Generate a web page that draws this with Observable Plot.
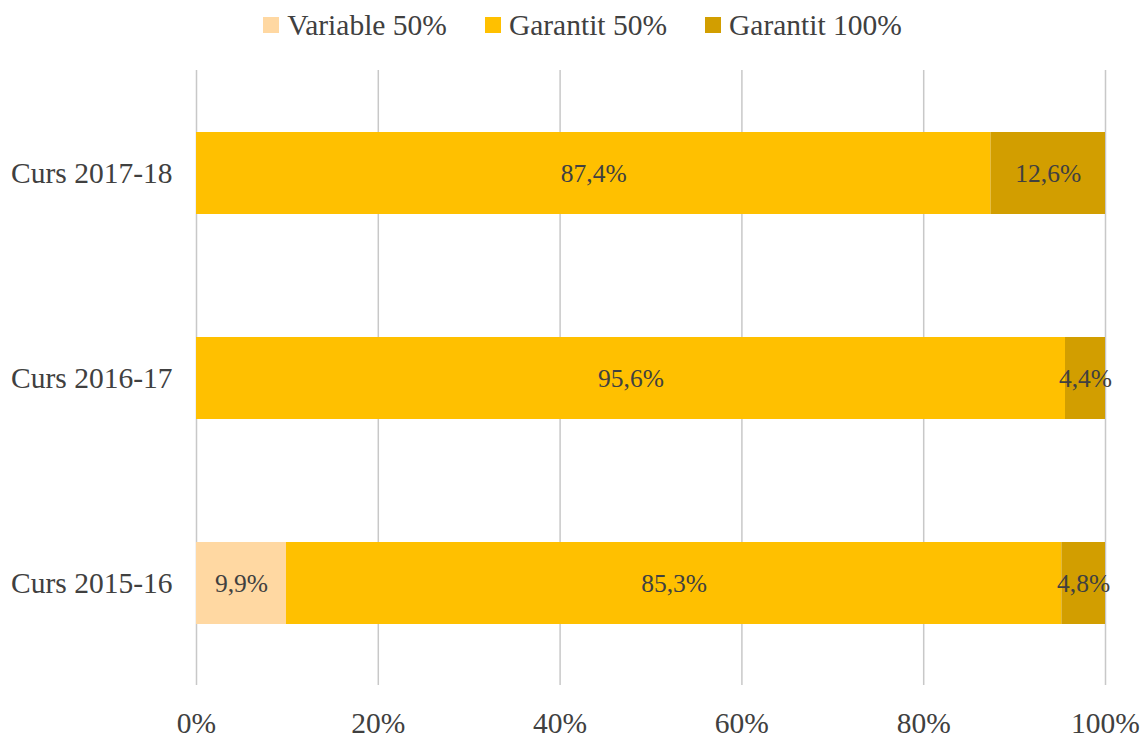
<!DOCTYPE html>
<html>
<head>
<meta charset="utf-8">
<script src="https://cdn.jsdelivr.net/npm/d3@7"></script>
<script src="https://cdn.jsdelivr.net/npm/@observablehq/plot@0.6"></script>
<style>
  body { margin: 0; background: #fff; font-family: "Liberation Serif", serif; }
  #legend { height: 50px; display: flex; align-items: center; justify-content: center; padding-left: 22px; box-sizing: border-box; color: #404040; font-size: 29.5px; }
  .item { display: flex; align-items: center; margin: 0 19px; }
  .sw { width: 16px; height: 16px; margin-right: 8px; }
</style>
</head>
<body>
<div id="legend"></div>
<div id="chart"></div>
<script>
const categories = ["Curs 2017-18", "Curs 2016-17", "Curs 2015-16"];
const series = ["Variable 50%", "Garantit 50%", "Garantit 100%"];
const colors = ["#FFD8A2", "#FFC000", "#D29E00"];
const variable50 = [0, 0, 9.9];
const garantit50 = [87.4, 95.6, 85.3];
const garantit100 = [12.6, 4.4, 4.8];
const xTicks = [0, 20, 40, 60, 80, 100];

const seriesValues = [variable50, garantit50, garantit100];
const data = [];
categories.forEach((c, i) => {
  series.forEach((s, j) => {
    const v = seriesValues[j][i];
    if (v > 0) data.push({cat: c, series: s, value: v});
  });
});

const legend = document.getElementById("legend");
series.forEach((s, j) => {
  const it = document.createElement("div");
  it.className = "item";
  it.innerHTML = `<div class="sw" style="background:${colors[j]}"></div><span>${s}</span>`;
  legend.appendChild(it);
});

const fmt = v => v.toFixed(1).replace(".", ",") + "%";

const chart = Plot.plot({
  width: 1143,
  height: 688,
  marginLeft: 196,
  marginRight: 38,
  marginTop: 20,
  marginBottom: 53,
  style: {fontFamily: "Liberation Serif", color: "#404040", background: "#fff"},
  x: {domain: [0, 100], ticks: xTicks},
  y: {domain: categories, paddingInner: 0.6, paddingOuter: 0.3, label: null},
  color: {domain: series, range: colors},
  marks: [
    Plot.ruleX(xTicks, {x: d => d, stroke: "#c8c8c8", strokeWidth: 1.5}),
    Plot.barX(data, Plot.stackX({y: "cat", x: "value", fill: "series", order: series})),
    Plot.textX(data, Plot.stackX({y: "cat", x: "value", z: "series", order: series, text: d => fmt(d.value), fill: "#404040", fontSize: 25.5})),
    Plot.axisX({ticks: xTicks, tickFormat: d => d + "%", tickSize: 0, tickPadding: 27, fontSize: 29.5, label: null}),
    Plot.axisY({tickSize: 0, tickPadding: 24, fontSize: 29.5, label: null})
  ]
});
document.getElementById("chart").appendChild(chart);
</script>
</body>
</html>
